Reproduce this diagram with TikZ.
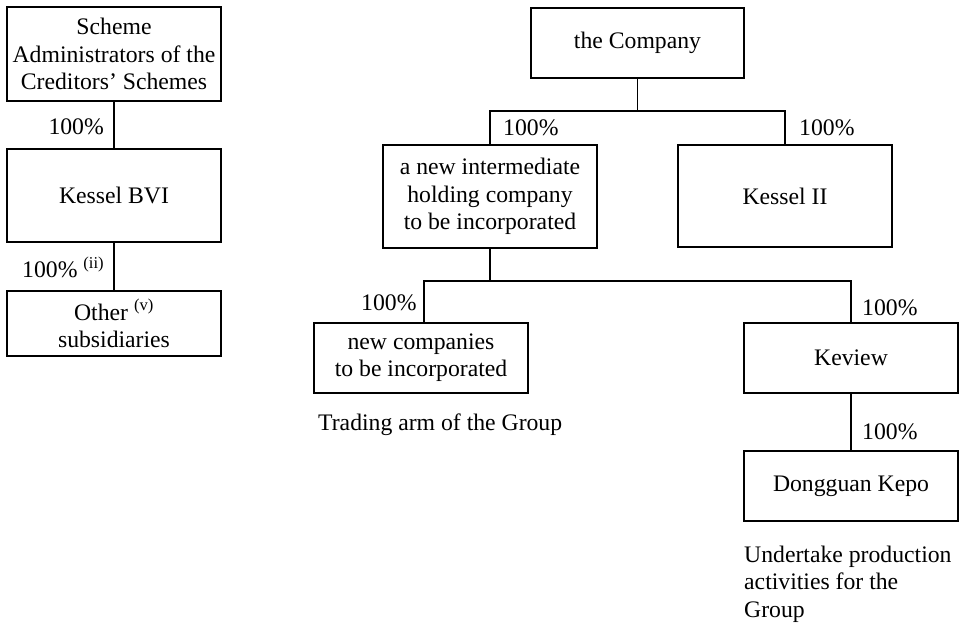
\documentclass[tikz,border=0pt]{standalone}
\usepackage{fontspec}
\setmainfont{Liberation Serif}
\begin{document}
\begin{tikzpicture}[x=1pt,y=-1pt,
  every node/.style={font=\fontsize{23.7pt}{27.3pt}\selectfont},
  box/.style={draw, line width=1.2pt, align=center, inner sep=0pt, minimum width=214pt},
  lab/.style={inner sep=0pt},
  conn/.style={line width=1.2pt}]
\useasboundingbox (0,0) rectangle (965,624);
% left tree
\node[box, minimum height=94pt] (sa) at (114,54) {Scheme\\Administrators of the\\Creditors' Schemes};
\node[box, minimum height=93pt] (kb) at (114,195.5) {Kessel BVI};
\node[box, minimum height=65pt] (oth) at (114,323.5) {Other \textsuperscript{(v)}\\subsidiaries};
\draw[conn] (sa.south) -- (kb.north);
\draw[conn] (kb.south) -- (oth.north);
\node[lab, anchor=east] (l1) at (104,127) {100\%};
\node[lab, anchor=west] (l2) at (22,267) {100\% \textsuperscript{(ii)}};
% right tree
\node[box, minimum width=213pt, minimum height=70pt] (co) at (637.5,43) {the Company};
\node[box, minimum height=103pt] (ih) at (490,196.5) {a new intermediate\\holding company\\to be incorporated};
\node[box, minimum height=102pt] (k2) at (785,196) {Kessel II};
\node[box, minimum height=70pt] (nc) at (421,358) {new companies\\to be incorporated};
\node[box, minimum height=70pt] (kv) at (851,358) {Keview};
\node[box, minimum height=70pt] (dk) at (851,486) {Dongguan Kepo};
\coordinate (j1) at (637,111);
\coordinate (j2) at (490,281);
\draw[conn] (co.south) -- (co.south |- j1);
\draw[conn] (ih.north) -- (ih.north |- j1) -- (k2.north |- j1) -- (k2.north);
\draw[conn] (ih.south) -- (ih.south |- j2);
\draw[conn] ([xshift=3pt]nc.north) -- ([xshift=3pt]nc.north |- j2) -- (kv.north |- j2) -- (kv.north);
\draw[conn] (kv.south) -- (dk.north);
\node[lab, anchor=west] (l3) at (503,128) {100\%};
\node[lab, anchor=west] (l4) at (799,128) {100\%};
\node[lab, anchor=west] (l5) at (361,303) {100\%};
\node[lab, anchor=west] (l6) at (862,308) {100\%};
\node[lab, anchor=west] (l7) at (862,432) {100\%};
\node[lab, anchor=west] (t1) at (318,425) {Trading arm of the Group};
\node[lab, anchor=north west, align=left] (t2) at (744,546) {Undertake production\\activities for the\\Group};
\end{tikzpicture}
\end{document}
